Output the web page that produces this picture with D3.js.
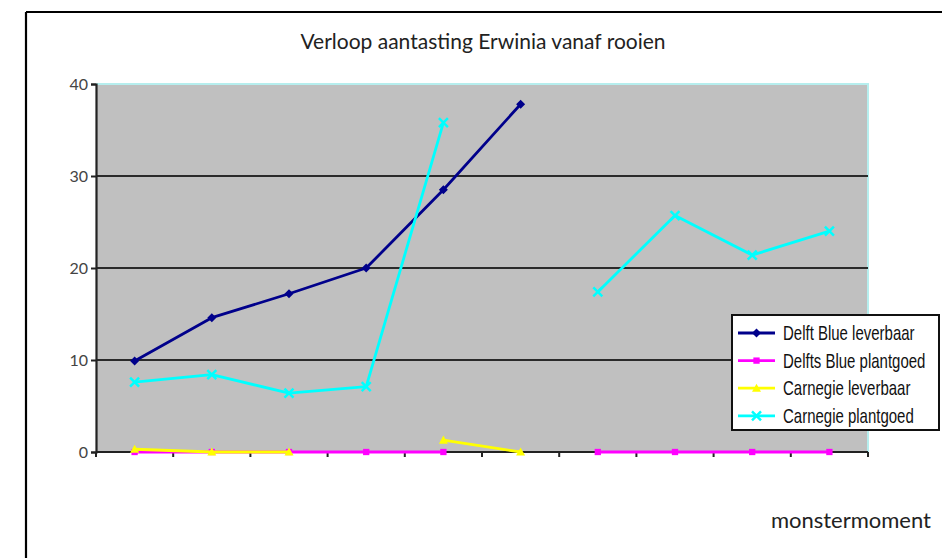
<!DOCTYPE html>
<html>
<head>
<meta charset="utf-8">
<script src="https://cdn.jsdelivr.net/npm/d3@7"></script>
<style>
  html, body { margin: 0; padding: 0; background: #fff; }
  svg { display: block; }
</style>
</head>
<body>
<svg id="chart" width="942" height="558"></svg>
<script>
// Sample moments (10 consecutive samplings, unlabeled on the axis)
const categories = [1, 2, 3, 4, 5, 6, 7, 8, 9, 10];

// Infection percentages per series; null = no measurement
const delftBlueLeverbaar   = [9.9, 14.6, 17.2, 20.0, 28.5, 37.8, null, null, null, null];
const delftsBluePlantgoed  = [0, 0, 0, 0, 0, null, 0, 0, 0, 0];
const carnegieLeverbaar    = [0.3, 0, 0, null, 1.3, 0, null, null, null, null];
const carnegiePlantgoed    = [7.6, 8.4, 6.4, 7.1, 35.8, null, 17.4, 25.7, 21.4, 24.0];

const yTicks = [0, 10, 20, 30, 40];

const seriesNames  = ["Delft Blue leverbaar", "Delfts Blue plantgoed", "Carnegie leverbaar", "Carnegie plantgoed"];
const seriesColors = ["#00008b", "#ff00ff", "#ffff00", "#00ffff"];
const seriesShapes = ["diamond", "square", "triangle", "cross"];
const seriesValues = [delftBlueLeverbaar, delftsBluePlantgoed, carnegieLeverbaar, carnegiePlantgoed];

const svg = d3.select("#chart");

// Outer chart frame
svg.append("line").attr("x1", 26).attr("y1", 12).attr("x2", 942).attr("y2", 12)
  .attr("stroke", "#000").attr("stroke-width", 2.2);
svg.append("line").attr("x1", 26).attr("y1", 12).attr("x2", 26).attr("y2", 558)
  .attr("stroke", "#000").attr("stroke-width", 2.2);

const plot = { left: 96, right: 868, top: 84, bottom: 452 };

const x = d3.scaleBand().domain(categories).range([plot.left, plot.right]).padding(0);
const y = d3.scaleLinear().domain([0, 40]).range([plot.bottom, plot.top]);

// Plot area background
svg.append("rect")
  .attr("x", plot.left).attr("y", plot.top)
  .attr("width", plot.right - plot.left).attr("height", plot.bottom - plot.top)
  .attr("fill", "#c0c0c0");

// Plot area top / right edges (light cyan)
svg.append("path")
  .attr("d", `M${plot.left},${plot.top}H${plot.right}V${plot.bottom}`)
  .attr("fill", "none").attr("stroke", "#b6eeee").attr("stroke-width", 2);

// Horizontal gridlines
svg.append("g").selectAll("line")
  .data(yTicks.filter(t => t > 0 && t < 40))
  .join("line")
  .attr("x1", plot.left).attr("x2", plot.right)
  .attr("y1", d => y(d)).attr("y2", d => y(d))
  .attr("stroke", "#2a2a2a").attr("stroke-width", 2.2);

// Y axis
const yAxis = d3.axisLeft(y).tickValues(yTicks).tickSize(5).tickPadding(3);
const gy = svg.append("g").attr("transform", `translate(${plot.left},0)`).call(yAxis);
gy.select(".domain").attr("stroke", "#222").attr("stroke-width", 2.2);
gy.selectAll(".tick line").attr("stroke", "#222").attr("stroke-width", 2);
gy.selectAll(".tick text")
  .attr("font-family", "Lato, 'DejaVu Sans', sans-serif")
  .attr("font-size", 16).attr("fill", "#444");

// X axis: baseline with tick marks at category boundaries, no labels
const bounds = categories.map(c => x(c)).concat([plot.right]);
svg.append("line")
  .attr("x1", plot.left).attr("x2", plot.right)
  .attr("y1", y(0)).attr("y2", y(0))
  .attr("stroke", "#222").attr("stroke-width", 2.2);
svg.append("g").selectAll("line")
  .data(bounds)
  .join("line")
  .attr("x1", d => d).attr("x2", d => d)
  .attr("y1", y(0)).attr("y2", y(0) + 5)
  .attr("stroke", "#222").attr("stroke-width", 2);

// Marker drawing
function marker(g, shape, color, size) {
  const s = size;
  if (shape === "diamond") {
    g.append("path").attr("d", `M0,${-s}L${s},0L0,${s}L${-s},0Z`).attr("fill", color);
  } else if (shape === "square") {
    g.append("rect").attr("x", -s * 0.7).attr("y", -s * 0.7)
      .attr("width", s * 1.4).attr("height", s * 1.4).attr("fill", color);
  } else if (shape === "triangle") {
    g.append("path").attr("d", `M0,${-s}L${s},${s * 0.8}L${-s},${s * 0.8}Z`).attr("fill", color);
  } else if (shape === "cross") {
    g.append("path").attr("d", `M${-s},${-s}L${s},${s}M${s},${-s}L${-s},${s}`)
      .attr("stroke", color).attr("stroke-width", 2.5).attr("fill", "none");
  }
}

const line = d3.line()
  .defined(d => d.v !== null)
  .x(d => x(d.c) + x.bandwidth() / 2)
  .y(d => y(d.v));

seriesValues.forEach((vals, i) => {
  const pts = categories.map((c, j) => ({ c, v: vals[j] }));
  const g = svg.append("g");
  g.append("path")
    .datum(pts)
    .attr("d", line)
    .attr("fill", "none")
    .attr("stroke", seriesColors[i])
    .attr("stroke-width", 2.8)
    .attr("stroke-linejoin", "round");
  pts.filter(d => d.v !== null).forEach(d => {
    const m = g.append("g")
      .attr("transform", `translate(${x(d.c) + x.bandwidth() / 2},${y(d.v)})`);
    marker(m, seriesShapes[i], seriesColors[i], 4.5);
  });
});

// Title
svg.append("text")
  .attr("x", 483).attr("y", 49)
  .attr("text-anchor", "middle")
  .attr("font-family", "Lato, 'Open Sans', sans-serif")
  .attr("font-size", 21)
  .attr("fill", "#222")
  .text("Verloop aantasting Erwinia vanaf rooien");

// Category axis title
svg.append("text")
  .attr("x", 931).attr("y", 528)
  .attr("text-anchor", "end")
  .attr("font-family", "Lato, 'Open Sans', sans-serif")
  .attr("font-size", 22)
  .attr("fill", "#222")
  .text("monstermoment");

// Legend
const legend = svg.append("g");
legend.append("rect")
  .attr("x", 732).attr("y", 315).attr("width", 207).attr("height", 115)
  .attr("fill", "#fff").attr("stroke", "#111").attr("stroke-width", 2);
seriesNames.forEach((name, i) => {
  const cy = 333 + i * 27.6;
  legend.append("line")
    .attr("x1", 738).attr("x2", 775).attr("y1", cy).attr("y2", cy)
    .attr("stroke", seriesColors[i]).attr("stroke-width", 2.8);
  const m = legend.append("g").attr("transform", `translate(756.5,${cy})`);
  marker(m, seriesShapes[i], seriesColors[i], 4.5);
  // narrow lettering: horizontally compressed sans
  legend.append("text")
    .attr("transform", `translate(783,${cy + 7}) scale(0.75,1)`)
    .attr("font-family", "'Liberation Sans', Arial, sans-serif")
    .attr("font-size", 20)
    .attr("fill", "#111")
    .text(name);
});
</script>
</body>
</html>
